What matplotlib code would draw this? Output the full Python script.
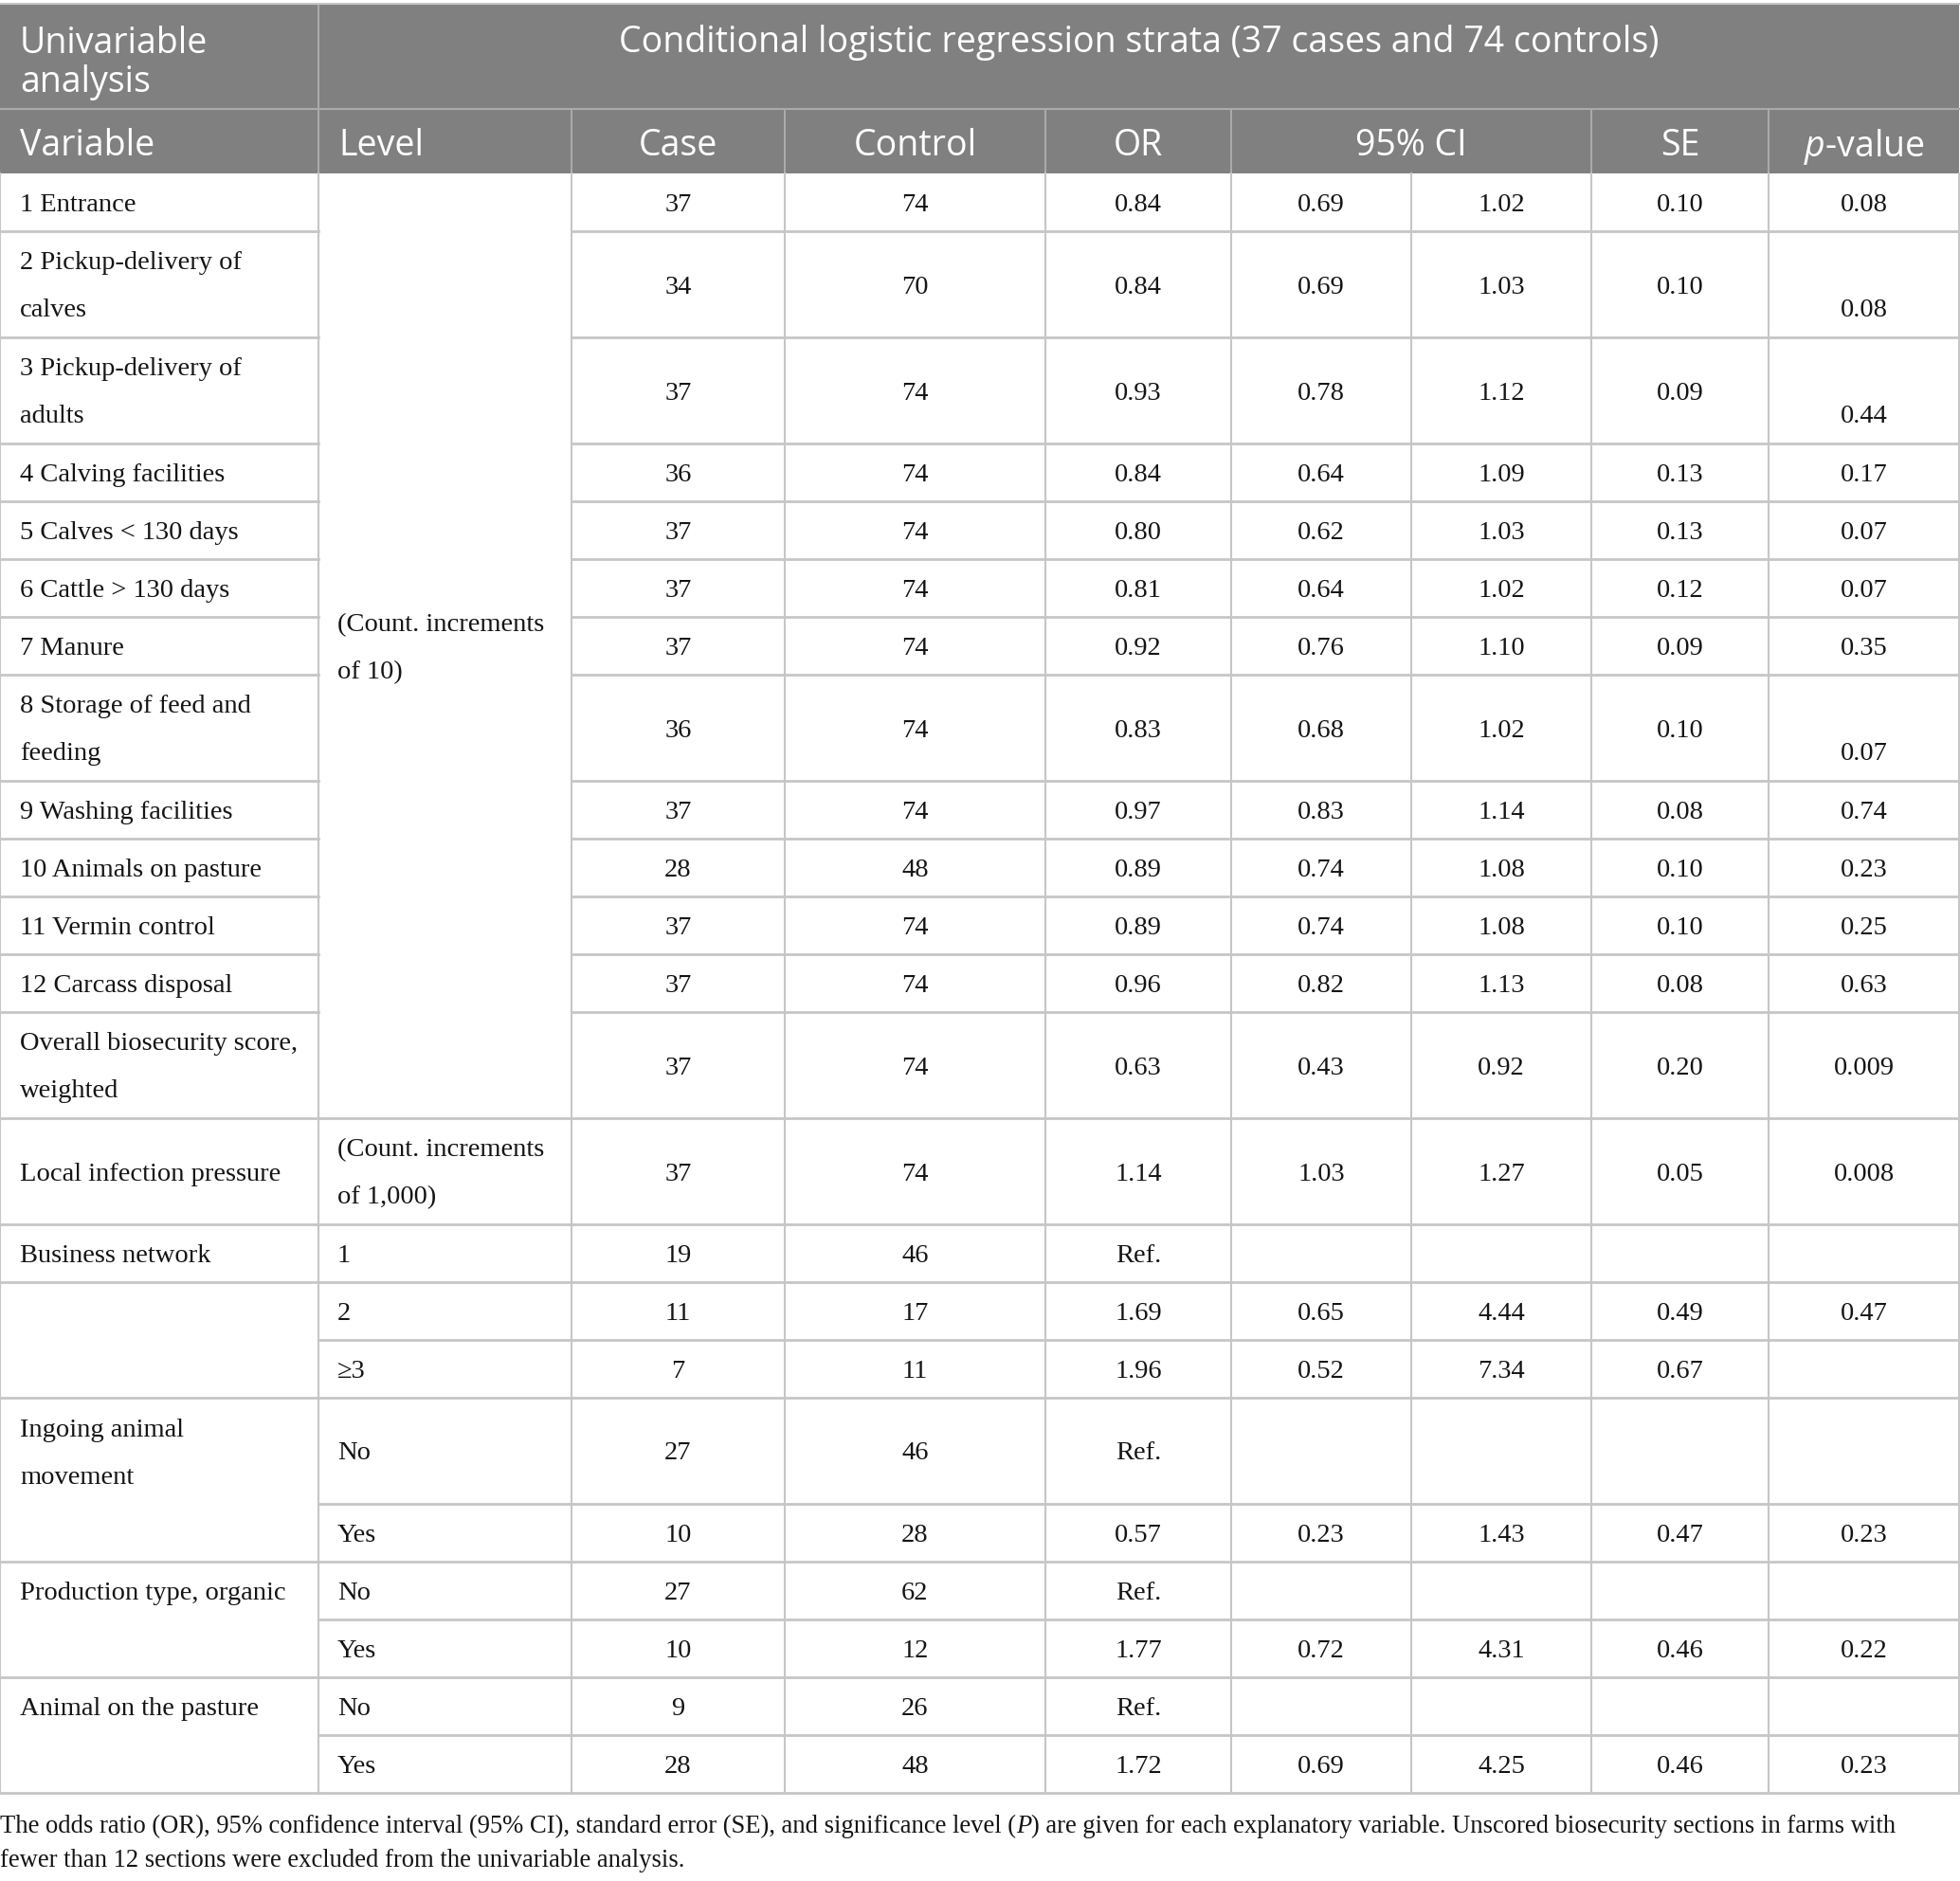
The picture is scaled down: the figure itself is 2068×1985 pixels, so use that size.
import matplotlib
matplotlib.use("Agg")
import matplotlib.pyplot as plt
from matplotlib.patches import Rectangle

plt.rcParams['mathtext.fontset'] = 'custom'
plt.rcParams['mathtext.it'] = 'Open Sans:italic'
plt.rcParams['mathtext.rm'] = 'Open Sans'

# ---- table content ----
variables = [
    "1 Entrance", "2 Pickup-delivery of\ncalves", "3 Pickup-delivery of\nadults",
    "4 Calving facilities", "5 Calves < 130 days", "6 Cattle > 130 days",
    "7 Manure", "8 Storage of feed and\nfeeding", "9 Washing facilities",
    "10 Animals on pasture", "11 Vermin control", "12 Carcass disposal",
    "Overall biosecurity score,\nweighted", "Local infection pressure",
    "Business network", "", "Ingoing animal\nmovement",
    "Production type, organic", "Animal on the pasture",
]
var_span = [1] * 15 + [2, 2, 2, 2]
levels = ["(Count. increments\nof 10)", "(Count. increments\nof 1,000)",
          "1", "2", "≥3", "No", "Yes", "No", "Yes", "No", "Yes"]
level_span = [13] + [1] * 10
case = [37, 34, 37, 36, 37, 37, 37, 36, 37, 28, 37, 37, 37, 37,
        19, 11, 7, 27, 10, 27, 10, 9, 28]
control = [74, 70, 74, 74, 74, 74, 74, 74, 74, 48, 74, 74, 74, 74,
           46, 17, 11, 46, 28, 62, 12, 26, 48]
odds_ratio = ["0.84", "0.84", "0.93", "0.84", "0.80", "0.81", "0.92", "0.83",
              "0.97", "0.89", "0.89", "0.96", "0.63", "1.14",
              "Ref.", "1.69", "1.96", "Ref.", "0.57", "Ref.", "1.77", "Ref.", "1.72"]
ci_low = ["0.69", "0.69", "0.78", "0.64", "0.62", "0.64", "0.76", "0.68",
          "0.83", "0.74", "0.74", "0.82", "0.43", "1.03",
          "", "0.65", "0.52", "", "0.23", "", "0.72", "", "0.69"]
ci_high = ["1.02", "1.03", "1.12", "1.09", "1.03", "1.02", "1.10", "1.02",
           "1.14", "1.08", "1.08", "1.13", "0.92", "1.27",
           "", "4.44", "7.34", "", "1.43", "", "4.31", "", "4.25"]
std_err = ["0.10", "0.10", "0.09", "0.13", "0.13", "0.12", "0.09", "0.10",
           "0.08", "0.10", "0.10", "0.08", "0.20", "0.05",
           "", "0.49", "0.67", "", "0.47", "", "0.46", "", "0.46"]
p_value = ["0.08", "0.08", "0.44", "0.17", "0.07", "0.07", "0.35", "0.07",
           "0.74", "0.23", "0.25", "0.63", "0.009", "0.008",
           "", "0.47", "", "", "0.23", "", "0.22", "", "0.23"]

title = "Conditional logistic regression strata (37 cases and 74 controls)"
caption_parts = [
    ("The odds ratio (OR), 95% confidence interval (95% CI), standard error (SE), "
     "and significance level (", "normal"),
    ("P", "italic"),
    (") are given for each explanatory variable. Unscored biosecurity sections "
     "in farms with", "normal"),
]
caption_line2 = "fewer than 12 sections were excluded from the univariable analysis."

# ---- layout (pixels) ----
W, H = 2068, 1985
col_x = [0, 336, 603, 828, 1103, 1299, 1489, 1679, 1866, 2067]
top, head_mid, head_bot = 4, 115, 183
single_h, double_h = 61, 112
row_lines = [1, 2, 2, 1, 1, 1, 1, 2, 1, 1, 1, 1, 2, 2,
             1, 1, 1, 2, 1, 1, 1, 1, 1]
p_second_line = {1, 2, 7}
line_gap = 50
head_bg = '#7f807f'
grid = '#c6c6c6'
head_grid = '#a9aaa9'
serif = 'Liberation Serif'
sans = 'Open Sans'
fs_body = 20.5
fs_caption = 19.2
fs_head = 27

row_y = [head_bot]
for n in row_lines:
    row_y.append(row_y[-1] + (single_h if n == 1 else double_h))
n_rows = len(row_lines)

fig = plt.figure(figsize=(W / 100, H / 100), dpi=100)
ax = fig.add_axes([0, 0, 1, 1])
ax.set_xlim(0, W)
ax.set_ylim(H, 0)
ax.axis('off')


def body_text(x, y0, y1, label, ha='left', second=False):
    parts = label.split("\n")
    mid = (y0 + y1) / 2
    if second:
        ys = [mid + line_gap / 2]
    else:
        ys = [mid + (i - (len(parts) - 1) / 2) * line_gap for i in range(len(parts))]
    for s, yy in zip(parts, ys):
        ax.text(x, yy, s, ha=ha, va='center_baseline', fontsize=fs_body,
                family=serif, color='#141414')


def head_text(x, y, label, ha='left'):
    ax.text(x, y, label, ha=ha, va='center_baseline', fontsize=fs_head,
            family=sans, color='white')


# header
ax.add_patch(Rectangle((0, top), col_x[-1], head_bot - top, color=head_bg, lw=0))
head_text(21, 41, "Univariable")
head_text(21, 82, "analysis")
head_text((col_x[1] + col_x[-1]) / 2, 41, title, ha='center')
head_labels = ["Variable", "Level", "Case", "Control", "OR", "95% CI", "SE",
               r"$\mathit{p}$-value"]
head_cells = [(0, 1), (1, 2), (2, 3), (3, 4), (4, 5), (5, 7), (7, 8), (8, 9)]
for lab, (a, b) in zip(head_labels, head_cells):
    if lab in ("Variable", "Level"):
        head_text(col_x[a] + 21, 149, lab)
    else:
        head_text((col_x[a] + col_x[b]) / 2, 149, lab, ha='center')
ax.plot([0, col_x[-1]], [head_mid, head_mid], color=head_grid, lw=1.5)
ax.plot([col_x[1], col_x[1]], [top, head_bot], color=head_grid, lw=1.5)
for a, b in head_cells[1:]:
    ax.plot([col_x[a], col_x[a]], [head_mid, head_bot], color=head_grid, lw=1.5)
ax.plot([0, col_x[-1]], [top, top], color=grid, lw=1.5)


# merged cells in the first two columns
def span_groups(spans):
    out, r = [], 0
    for s in spans:
        out.append((r, r + s))
        r += s
    return out


var_groups = span_groups(var_span)
level_groups = span_groups(level_span)
for lab, (r0, r1) in zip(variables, var_groups):
    # grouped variables sit beside their first level row
    body_text(col_x[0] + 21, row_y[r0], row_y[r0 + 1], lab)
for lab, (r0, r1) in zip(levels, level_groups):
    body_text(col_x[1] + 20, row_y[r0], row_y[r1], lab)

# numeric columns
num_cols = [case, control, odds_ratio, ci_low, ci_high, std_err, p_value]
for j, values in enumerate(num_cols):
    xc = (col_x[j + 2] + col_x[j + 3]) / 2
    for i, v in enumerate(values):
        second = (j == 6 and i in p_second_line)
        body_text(xc, row_y[i], row_y[i + 1], str(v), ha='center', second=second)

# grid lines
var_breaks = {r1 for _, r1 in var_groups}
level_breaks = {r1 for _, r1 in level_groups}
for i in range(1, n_rows + 1):
    y = row_y[i]
    if i in var_breaks:
        ax.plot([col_x[0], col_x[1]], [y, y], color=grid, lw=2)
    if i in level_breaks:
        ax.plot([col_x[1], col_x[2]], [y, y], color=grid, lw=2)
    ax.plot([col_x[2], col_x[-1]], [y, y], color=grid, lw=2)
for x in col_x:
    ax.plot([x, x], [head_bot, row_y[-1]], color=grid, lw=1.5)

# caption
t = ax.text(0, 1924, caption_parts[0][0], ha='left', va='center_baseline',
            fontsize=fs_caption, family=serif, color='#141414')
for s, style in caption_parts[1:]:
    t = ax.annotate(s, xy=(1, 0), xycoords=t, ha='left', va='bottom',
                    fontsize=fs_caption, family=serif, style=style, color='#141414')
ax.text(0, 1961, caption_line2, ha='left', va='center_baseline',
        fontsize=fs_caption, family=serif, color='#141414')

fig.savefig("out.png", dpi=100)
